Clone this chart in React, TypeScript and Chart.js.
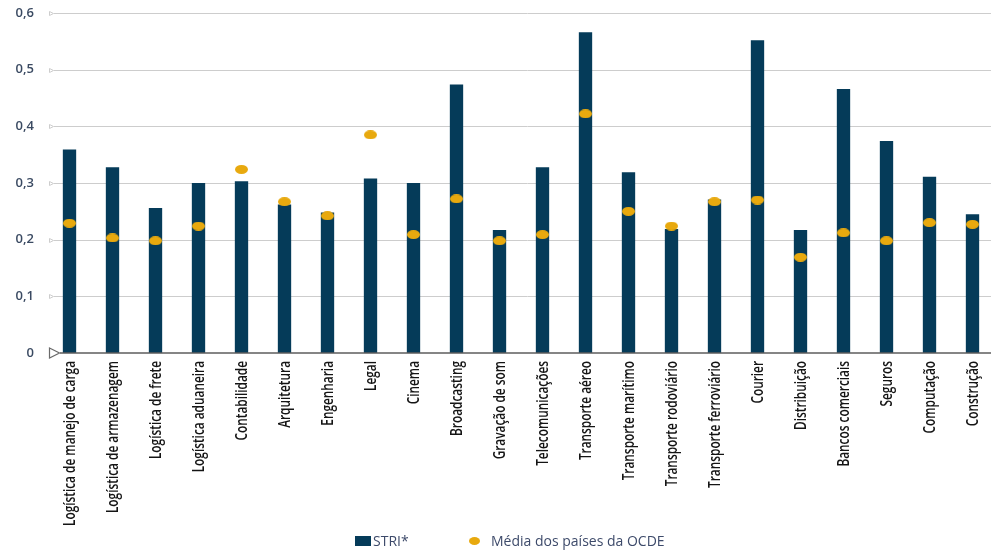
import React, { useEffect, useRef } from 'react';
import { Chart, registerables } from 'chart.js';

Chart.register(...registerables);

const categories = [
  'Logística de manejo de carga',
  'Logística de armazenagem',
  'Logística de frete',
  'Logística aduaneira',
  'Contabilidade',
  'Arquitetura',
  'Engenharia',
  'Legal',
  'Cinema',
  'Broadcasting',
  'Gravação de som',
  'Telecomunicações',
  'Transporte aéreo',
  'Transporte marítimo',
  'Transporte rodoviário',
  'Transporte ferroviário',
  'Courier',
  'Distribuição',
  'Bancos comerciais',
  'Seguros',
  'Computação',
  'Construção',
];

const striValues = [
  0.359, 0.328, 0.256, 0.3, 0.303, 0.262, 0.248, 0.308, 0.3, 0.474, 0.217,
  0.328, 0.566, 0.319, 0.219, 0.271, 0.552, 0.217, 0.466, 0.374, 0.311, 0.245,
];

const ocdeAverage = [
  0.229, 0.203, 0.198, 0.224, 0.324, 0.267, 0.242, 0.385, 0.209, 0.272, 0.198,
  0.209, 0.422, 0.25, 0.224, 0.267, 0.27, 0.169, 0.212, 0.198, 0.23, 0.227,
];

const yTickLabels = ['0', '0,1', '0,2', '0,3', '0,4', '0,5', '0,6'];

const seriesNames = ['STRI*', 'Média dos países da OCDE'];

const NAVY = '#053b59';
const GOLD = '#e8a90e';

function ellipseMarker(w: number, h: number, color: string) {
  const c = document.createElement('canvas');
  c.width = w;
  c.height = h;
  const g = c.getContext('2d')!;
  g.fillStyle = color;
  g.beginPath();
  g.ellipse(w / 2, h / 2, w / 2, h / 2, 0, 0, Math.PI * 2);
  g.fill();
  return c;
}

// Grid lines with small open arrowheads, and the heavier zero baseline.
const axisDecor = {
  id: 'axisDecor',
  beforeDatasetsDraw(chart: any) {
    const { ctx, scales } = chart;
    const y = scales.y;
    ctx.save();
    y.ticks.forEach((t: any) => {
      if (t.value === 0) return;
      const py = Math.round(y.getPixelForValue(t.value)) + 0.5;
      ctx.strokeStyle = '#cdcdcd';
      ctx.lineWidth = 1;
      ctx.beginPath();
      ctx.moveTo(54, py);
      ctx.lineTo(chart.width, py);
      ctx.stroke();
      ctx.beginPath();
      ctx.moveTo(49.5, py - 2);
      ctx.lineTo(53.5, py);
      ctx.lineTo(49.5, py + 2);
      ctx.closePath();
      ctx.stroke();
    });
    ctx.restore();
  },
  afterDatasetsDraw(chart: any) {
    const { ctx, scales } = chart;
    const y = scales.y;
    const py = Math.round(y.getPixelForValue(0));
    ctx.save();
    ctx.strokeStyle = '#5c5c5c';
    ctx.lineWidth = 1.5;
    ctx.beginPath();
    ctx.moveTo(60, py);
    ctx.lineTo(chart.width, py);
    ctx.stroke();
    ctx.fillStyle = '#ffffff';
    ctx.strokeStyle = '#6a6a6a';
    ctx.lineWidth = 1.2;
    ctx.beginPath();
    ctx.moveTo(49.5, py - 5);
    ctx.lineTo(59.5, py);
    ctx.lineTo(49.5, py + 5);
    ctx.closePath();
    ctx.fill();
    ctx.stroke();
    ctx.restore();
  },
};

// Category names, set vertically in a narrowed face under each bar.
const condensedCategoryLabels = {
  id: 'condensedCategoryLabels',
  afterDraw(chart: any) {
    const { ctx, scales } = chart;
    const x = scales.x;
    const labels: string[] = chart.data.labels;
    ctx.save();
    ctx.font = "600 16px 'Open Sans', sans-serif";
    ctx.fillStyle = '#141414';
    ctx.textAlign = 'right';
    ctx.textBaseline = 'middle';
    labels.forEach((label, i) => {
      const px = x.getPixelForTick(i);
      ctx.save();
      ctx.translate(px + 0.5, x.top + 8);
      ctx.rotate(-Math.PI / 2);
      ctx.scale(0.74, 1);
      ctx.fillText(label, 0, 0);
      ctx.restore();
    });
    ctx.restore();
  },
};

export default function App() {
  const canvasRef = useRef<HTMLCanvasElement>(null);

  useEffect(() => {
    const canvas = canvasRef.current;
    if (!canvas) return;
    const dot = ellipseMarker(13, 9, GOLD);

    const chart = new Chart(canvas, {
      type: 'bar',
      data: {
        labels: categories,
        datasets: [
          {
            type: 'line',
            label: seriesNames[1],
            data: ocdeAverage,
            showLine: false,
            pointStyle: dot as any,
            pointRadius: 6,
            pointHoverRadius: 6,
            order: 1,
          } as any,
          {
            type: 'bar',
            label: seriesNames[0],
            data: striValues,
            backgroundColor: NAVY,
            borderWidth: 0,
            barPercentage: 0.31,
            categoryPercentage: 1,
            order: 2,
          },
        ],
      },
      plugins: [axisDecor, condensedCategoryLabels],
      options: {
        responsive: false,
        animation: false,
        devicePixelRatio: 1,
        layout: { padding: { top: 13, right: 0, bottom: 0, left: 0 } },
        plugins: {
          legend: { display: false },
          tooltip: { enabled: false },
        },
        scales: {
          x: {
            offset: true,
            grid: { display: false, drawTicks: false },
            border: { display: false },
            ticks: { display: false, autoSkip: false },
            afterFit(scale: any) {
              scale.height = 201;
            },
          },
          y: {
            min: 0,
            max: 0.6,
            grid: { display: false, drawTicks: false },
            border: { display: false },
            ticks: {
              stepSize: 0.1,
              padding: 14,
              color: '#3a4a62',
              font: { family: "'Open Sans', sans-serif", size: 13, weight: '600' },
              callback: (_v: any, i: number) => yTickLabels[i],
            },
            afterFit(scale: any) {
              scale.width = 48;
              scale.paddingTop = 0;
              scale.paddingBottom = 0;
            },
          },
        },
      },
    });
    return () => chart.destroy();
  }, []);

  const legendText: React.CSSProperties = {
    position: 'absolute',
    top: 531,
    fontFamily: "'Open Sans', sans-serif",
    fontSize: 14,
    lineHeight: '20px',
    color: '#3d4a6a',
    whiteSpace: 'nowrap',
  };

  return (
    <div
      style={{
        position: 'fixed',
        left: 0,
        top: 0,
        width: 991,
        height: 554,
        overflow: 'hidden',
        background: '#ffffff',
      }}
    >
      <canvas ref={canvasRef} width={1001} height={554} style={{ display: 'block' }} />
      <div style={{ position: 'absolute', left: 355, top: 536, width: 16, height: 10, background: NAVY }} />
      <div style={{ ...legendText, left: 373 }}>{seriesNames[0]}</div>
      <div
        style={{
          position: 'absolute',
          left: 469,
          top: 537,
          width: 11,
          height: 8,
          borderRadius: '50%',
          background: GOLD,
        }}
      />
      <div style={{ ...legendText, left: 491 }}>{seriesNames[1]}</div>
    </div>
  );
}
